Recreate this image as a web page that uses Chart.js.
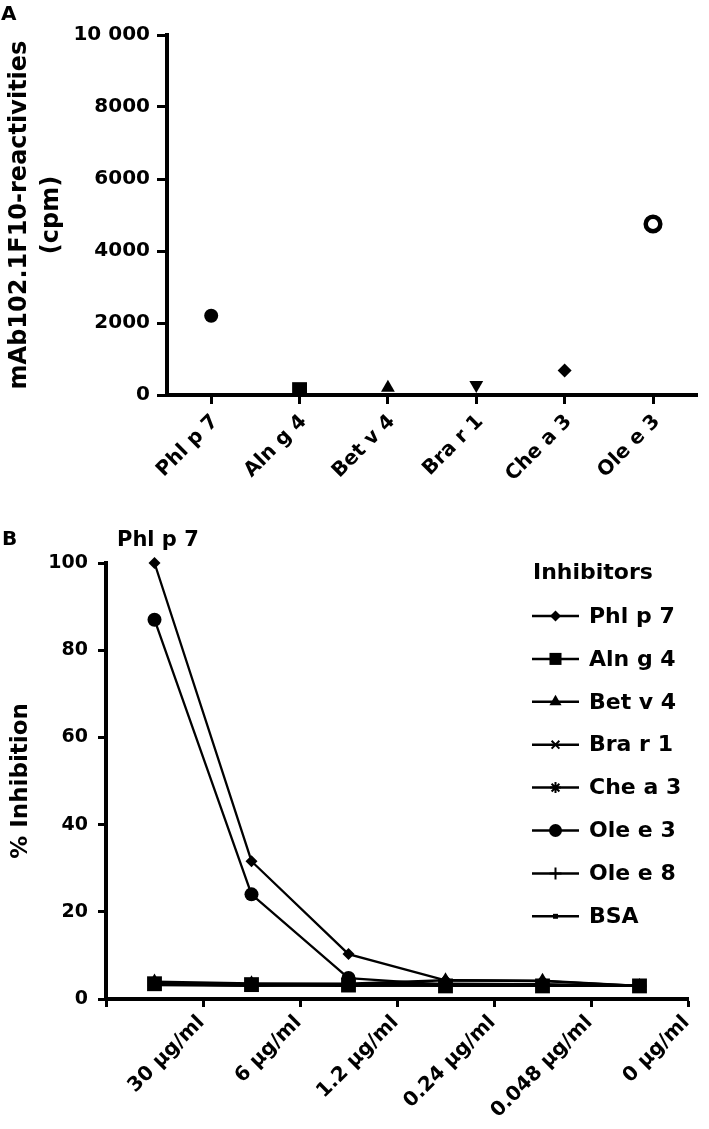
<!DOCTYPE html>
<html><head><meta charset="utf-8">
<script src="https://cdn.jsdelivr.net/npm/chart.js@4.4.0/dist/chart.umd.min.js"></script>
<style>
html,body{margin:0;padding:0;background:#fff;}
#wrap{position:relative;width:709px;height:1129px;overflow:hidden;background:#fff;}
canvas{position:absolute;left:0;}
#cA{top:0}
#cB{top:500px}
</style></head><body>
<div id="wrap"><canvas id="cA" width="709" height="500"></canvas><canvas id="cB" width="709" height="629"></canvas></div>
<script>
// ---------- Panel A data ----------
const allergens = ['Phl p 7', 'Aln g 4', 'Bet v 4', 'Bra r 1', 'Che a 3', 'Ole e 3'];
const reactivityCpm = [2200, 150, 200, 280, 680, 4750];
const yTicksA = [0, 2000, 4000, 6000, 8000, 10000];
const yTickLabelsA = ['0', '2000', '4000', '6000', '8000', '10 000'];

// ---------- Panel B data ----------
const concentrations = ['30 μg/ml', '6 μg/ml', '1.2 μg/ml', '0.24 μg/ml', '0.048 μg/ml', '0 μg/ml'];
const inhibitorNames = ['Phl p 7', 'Aln g 4', 'Bet v 4', 'Bra r 1', 'Che a 3', 'Ole e 3', 'Ole e 8', 'BSA'];
const inhPhlp7 = [100, 31.6, 10.3, 4.3, 4.1, 3.0];
const inhAlng4 = [3.5, 3.3, 3.2, 3.0, 3.0, 3.0];
const inhBetv4 = [4.0, 3.6, 3.5, 4.3, 4.2, 3.0];
const inhBrar1 = [3.2, 3.0, 3.3, 3.2, 3.1, 3.0];
const inhChea3 = [3.8, 3.2, 3.4, 3.5, 3.4, 3.0];
const inhOlee3 = [87, 24, 4.8, 3.3, 3.2, 3.0];
const inhOlee8 = [3.4, 3.1, 3.0, 3.1, 3.0, 3.0];
const inhBSA   = [3.6, 3.4, 3.1, 3.3, 3.2, 3.0];
const yTicksB = [0, 20, 40, 60, 80, 100];

const FONT = 'DejaVu Sans';
Chart.defaults.font.family = FONT;
Chart.defaults.font.weight = 'bold';
Chart.defaults.color = '#000';

function txt(ctx, s, x, y, size, align) {
  ctx.save();
  ctx.font = 'bold ' + size + 'px "' + FONT + '"';
  ctx.fillStyle = '#000';
  ctx.textAlign = align || 'left';
  ctx.textBaseline = 'middle';
  ctx.fillText(s, x, y);
  ctx.restore();
}

// ---------- Chart A ----------
const panelA = {
  id: 'panelA',
  afterDraw(chart) { txt(chart.ctx, 'A', 1, 15, 20); }
};
new Chart(document.getElementById('cA'), {
  type: 'line',
  data: {
    labels: allergens,
    datasets: [{
      data: reactivityCpm,
      showLine: false,
      clip: false,
      pointStyle: ['circle', 'rect', 'triangle', 'triangle', 'rectRot', 'circle'],
      rotation: [0, 0, 0, 180, 0, 0],
      pointRadius: [7, 10.5, 8, 8, 7, 7.3],
      pointBackgroundColor: ['#000', '#000', '#000', '#000', '#000', '#fff'],
      pointBorderColor: '#000',
      pointBorderWidth: [0, 0, 0, 0, 0, 4.5]
    }]
  },
  options: {
    responsive: false, animation: false, devicePixelRatio: 1,
    layout: { padding: { top: 35, right: 2, left: 0, bottom: 0 } },
    plugins: { legend: { display: false }, tooltip: { enabled: false } },
    scales: {
      x: {
        type: 'category', offset: true,
        afterFit(s) { s.height = 105; },
        grid: { display: true, drawOnChartArea: false, drawTicks: true, tickLength: 9, tickWidth: 3, tickColor: '#000', offset: false },
        border: { display: true, width: 4, color: '#000' },
        ticks: { font: { size: 20, weight: 'bold' }, color: '#000', minRotation: 45, maxRotation: 45, autoSkip: false, padding: 6, labelOffset: 4 }
      },
      y: {
        min: 0, max: 10000,
        afterFit(s) { s.width = 167; },
        afterBuildTicks(s) { s.ticks = yTicksA.map(v => ({ value: v })); },
        grid: { display: true, drawOnChartArea: false, drawTicks: true, tickLength: 10, tickWidth: 3, tickColor: '#000' },
        border: { display: true, width: 4, color: '#000' },
        ticks: { font: { size: 20, weight: 'bold' }, color: '#000', padding: 7,
          callback: (v) => { const i = yTicksA.indexOf(v); return i >= 0 ? yTickLabelsA[i] : ''; } },
        title: { display: true, text: ['mAb102.1F10-reactivities', '(cpm)'], color: '#000',
          font: { size: 24, weight: 'bold', lineHeight: 1.33 }, padding: { top: 4, bottom: 0 } }
      }
    }
  },
  plugins: [panelA]
});

// ---------- Chart B ----------
const bStyles = [
  { pointStyle: 'rectRot', r: 6, lr: 5.5, bw: 0 },
  { pointStyle: 'rect', r: 10.5, lr: 8.5, bw: 0 },
  { pointStyle: 'triangle', r: 8, lr: 7, bw: 0 },
  { pointStyle: 'crossRot', r: 6, lr: 5.5, bw: 2 },
  { pointStyle: 'star', r: 6, lr: 5.5, bw: 2 },
  { pointStyle: 'circle', r: 7, lr: 6.5, bw: 0 },
  { pointStyle: 'cross', r: 6, lr: 6, bw: 2 },
  { pointStyle: 'rect', r: 3, lr: 3.5, bw: 0 }
];
const bSeries = [inhPhlp7, inhAlng4, inhBetv4, inhBrar1, inhChea3, inhOlee3, inhOlee8, inhBSA];

function drawMarker(ctx, st, x, y, r) {
  if (Chart.helpers && Chart.helpers.drawPoint) {
    ctx.save();
    ctx.fillStyle = '#000'; ctx.strokeStyle = '#000'; ctx.lineWidth = st.bw || 2;
    Chart.helpers.drawPoint(ctx, { pointStyle: st.pointStyle, radius: r, rotation: 0, borderWidth: st.bw }, x, y);
    ctx.restore();
  }
}

const panelB = {
  id: 'panelB',
  afterDraw(chart) {
    const ctx = chart.ctx;
    txt(ctx, 'B', 2, 40, 20);
    txt(ctx, 'Phl p 7', 117, 41, 21);
    txt(ctx, 'Inhibitors', 533, 73, 22);
    inhibitorNames.forEach((name, i) => {
      const y = 116 + i * 42.9;
      ctx.save();
      ctx.strokeStyle = '#000'; ctx.lineWidth = 2.5;
      ctx.beginPath(); ctx.moveTo(532, y); ctx.lineTo(579, y); ctx.stroke();
      ctx.restore();
      drawMarker(ctx, bStyles[i], 555.5, y, bStyles[i].lr);
      txt(ctx, name, 589, y + 1, 22);
    });
  }
};

new Chart(document.getElementById('cB'), {
  type: 'line',
  data: {
    labels: concentrations,
    datasets: bSeries.map((d, i) => ({
      label: inhibitorNames[i],
      data: d,
      borderColor: '#000',
      borderWidth: 2.3,
      tension: 0,
      clip: false,
      pointStyle: bStyles[i].pointStyle,
      pointRadius: bStyles[i].r,
      pointBackgroundColor: '#000',
      pointBorderColor: '#000',
      pointBorderWidth: bStyles[i].bw
    }))
  },
  options: {
    responsive: false, animation: false, devicePixelRatio: 1,
    layout: { padding: { top: 63, right: 21, left: 0, bottom: 0 } },
    plugins: { legend: { display: false }, tooltip: { enabled: false } },
    scales: {
      x: {
        type: 'category', offset: true,
        afterFit(s) { s.height = 130; },
        grid: { display: true, drawOnChartArea: false, drawTicks: true, tickLength: 8, tickWidth: 3, tickColor: '#000', offset: true },
        border: { display: true, width: 4, color: '#000' },
        ticks: { font: { size: 20, weight: 'bold' }, color: '#000', minRotation: 45, maxRotation: 45, autoSkip: false, padding: 4, labelOffset: 47 }
      },
      y: {
        min: 0, max: 100,
        afterFit(s) { s.width = 106; },
        afterBuildTicks(s) { s.ticks = yTicksB.map(v => ({ value: v })); },
        grid: { display: true, drawOnChartArea: false, drawTicks: true, tickLength: 8, tickWidth: 3, tickColor: '#000' },
        border: { display: true, width: 4, color: '#000' },
        ticks: { font: { size: 19, weight: 'bold' }, color: '#000', padding: 10 },
        title: { display: true, text: '% Inhibition', color: '#000',
          font: { size: 23, weight: 'bold', lineHeight: 1.2 }, padding: { top: 7, bottom: 0 } }
      }
    }
  },
  plugins: [panelB]
});
</script>
</body></html>
